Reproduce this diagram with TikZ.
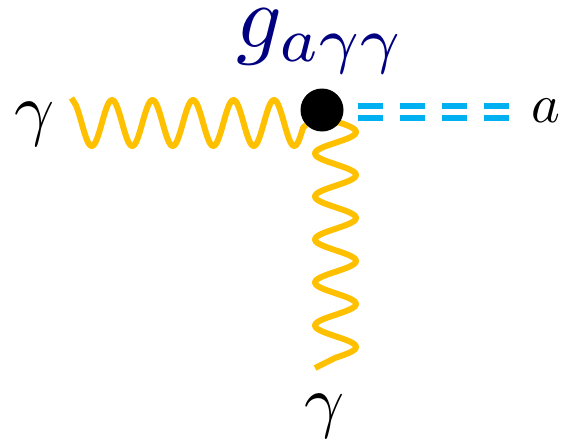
\documentclass[tikz,border=0pt]{standalone}
\usepackage{amsmath}
\usetikzlibrary{backgrounds}
\definecolor{photoncol}{HTML}{FFC000}
\definecolor{axioncol}{HTML}{00B0F0}
\definecolor{couplingcol}{HTML}{000080}
\tikzset{
  vertex/.style={circle, fill=black, minimum size=43pt, inner sep=0pt},
  lbl/.style={inner sep=0pt, scale=7},
  photon/.style={draw=photoncol, line width=6pt, line join=round},
  axion/.style={draw=axioncol, double=white, double distance=6.5pt, line width=5.5pt,
                dash pattern=on 25pt off 17pt},
}
\begin{document}
\begin{tikzpicture}[x=1pt, y=-1pt]
  \useasboundingbox (0,0) rectangle (561,439);
  \node[vertex] (vtx) at (322,110) {};
  \node[lbl] (gamL) at (35,124.5) {$\gamma$};
  \node[lbl] (gamB) at (325,416) {$\gamma$};
  \node[lbl, scale=0.78] (ax) at (546,111) {$a$};
  \node[lbl, scale=1.28, text=couplingcol] (coup) at (321,41.5) {$g_{a\gamma\gamma}$};
  \coordinate (photL) at (71.5,98);
  \coordinate (photB) at (315,368);
  \coordinate (axL) at (358,111.8);
  \coordinate (axR) at (510,111.8);
  \begin{scope}[on background layer]
    % the two photon lines run in under the vertex
    \draw[photon] (photL) -- plot[domain=76:303, samples=160] (\x,{123-23*cos(8.889*(\x-71.5))}) -- (vtx);
    \draw[photon] (photB) -- plot[domain=357.75:121, samples=160] ({335.5+20.5*cos(8.372*(\x-132))},\x) -- (vtx);
    \draw[axion] (axL) -- (axR);
  \end{scope}
\end{tikzpicture}
\end{document}
